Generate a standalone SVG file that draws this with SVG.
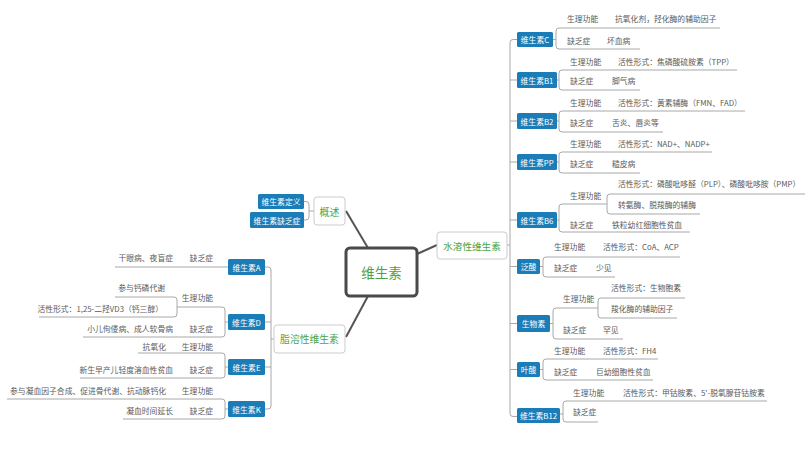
<svg xmlns="http://www.w3.org/2000/svg" width="812" height="473" viewBox="0 0 812 473">
<style>
.t{font-family:"Noto Sans CJK SC","Noto Sans",sans-serif;font-size:7.8px;fill:#5a5a5a;dominant-baseline:central}
.e{text-anchor:end}
.bx{fill:#1a7db8}
.bt{font-family:"Noto Sans CJK SC","Noto Sans",sans-serif;font-size:7.8px;fill:#ffffff;text-anchor:middle;dominant-baseline:central}
.ln{fill:none;stroke:#a8a8a8;stroke-width:1}
.cl{fill:none;stroke:#555555;stroke-width:2}
.mb{fill:#ffffff;stroke:#cccccc;stroke-width:1}
.mt{font-family:"Noto Sans CJK SC","Noto Sans",sans-serif;fill:#4aa34a;text-anchor:middle;dominant-baseline:central}
</style>
<rect width="812" height="473" fill="#ffffff"/>
<g id="connectors">
<path class="cl" d="M368 248 L346 211"/>
<path class="cl" d="M417 254 L437 245"/>
<path class="cl" d="M368 296 L346 337"/>
<path class="ln" d="M304 201.5 H306 Q309 201.5 309 204.5 V217 Q309 220 306 220 H304 M309 211 H314"/>
<path class="ln" d="M517 39.5 H513 Q510 39.5 510 42.5 V413.5 Q510 416.5 513 416.5 H517 M510 80 H517 M510 121 H517 M510 162 H517 M510 220 H517 M510 266.5 H517 M510 323.5 H517 M510 369.5 H517 M507 245 H510"/>
<path class="ln" d="M265 267 H268 Q271 267 271 270 V406 Q271 409 268 409 H265 M265 322 H271 M265 367 H271 M271 339 H274"/>
<path class="ln" d="M720 28 H559 Q556 28 556 31 V46 Q556 49 559 49 H640 M553 39.5 H556"/>
<path class="ln" d="M737 70 H562 Q559 70 559 73 V87 Q559 90 562 90 H640 M557 80 H559"/>
<path class="ln" d="M745 111 H562 Q559 111 559 114 V129 Q559 132 562 132 H663 M557 121 H559"/>
<path class="ln" d="M712 152 H562 Q559 152 559 155 V170 Q559 173 562 173 H640 M557 162 H559"/>
<path class="ln" d="M607 204 H562 Q559 204 559 207 V229 Q559 232 562 232 H690 M557 220 H559"/>
<path class="ln" d="M805 194 H610 Q607 194 607 197 V211 Q607 214 610 214 H700"/>
<path class="ln" d="M680 257 H546 Q543 257 543 260 V274 Q543 277 546 277 H615 M540 266.5 H543"/>
<path class="ln" d="M598 308 H556 Q553 308 553 311 V336 Q553 339 556 339 H623 M550 323.5 H553"/>
<path class="ln" d="M685 298 H601 Q598 298 598 301 V315 Q598 318 601 318 H677"/>
<path class="ln" d="M658 359 H546 Q543 359 543 362 V377 Q543 380 546 380 H653 M540 369.5 H543"/>
<path class="ln" d="M767 401 H566 Q563 401 563 404 V419 Q563 422 566 422 H598 M560 414 H563"/>
<path class="ln" d="M115 267 H228"/>
<path class="ln" d="M177 307 H222 Q225 307 225 310 V334 Q225 337 222 337 H83 M228 322 H225"/>
<path class="ln" d="M115 297 H174 Q177 297 177 300 V314 Q177 317 174 317 H39"/>
<path class="ln" d="M138 353 H222 Q225 353 225 356 V375 Q225 378 222 378 H80 M228 367 H225"/>
<path class="ln" d="M7 399 H222 Q225 399 225 402 V416 Q225 419 222 419 H123 M228 409 H225"/>
</g>
<g id="root">
<rect x="346" y="248" width="71" height="48" rx="4" fill="#ffffff" stroke="#4a4a4a" stroke-width="3"/>
<text class="mt" x="381.5" y="272" font-size="13.5">维生素</text>
</g>
<g id="overview">
<rect class="mb" x="314" y="197" width="31" height="28" rx="3"/>
<text class="mt" x="329.5" y="211" font-size="10">概述</text>
</g>
<g id="ov-def"><rect class="bx" x="258" y="194" width="46" height="15" rx="1.5"/><text class="bt" x="281" y="201.5">维生素定义</text></g>
<g id="ov-def2"><rect class="bx" x="250" y="212" width="54" height="16" rx="1.5"/><text class="bt" x="277" y="220">维生素缺乏症</text></g>
<g id="water">
<rect class="mb" x="437" y="232" width="70" height="27" rx="3"/>
<text class="mt" x="472" y="245.5" font-size="9.6">水溶性维生素</text>
</g>
<g id="fat">
<rect class="mb" x="274" y="325" width="71" height="28" rx="3"/>
<text class="mt" x="309.5" y="339" font-size="9.8">脂溶性维生素</text>
</g>
<g id="vc"><rect class="bx" x="517" y="32" width="36" height="15" rx="1.5"/><text class="bt" x="535" y="39.5">维生素C</text>
<text class="t" x="567" y="18">生理功能</text><text class="t" x="615" y="18">抗氧化剂，羟化酶的辅助因子</text>
<text class="t" x="567" y="40">缺乏症</text><text class="t" x="607" y="40">坏血病</text></g>
<g id="vb1"><rect class="bx" x="517" y="72" width="40" height="16" rx="1.5"/><text class="bt" x="537" y="80">维生素B1</text>
<text class="t" x="570" y="61">生理功能</text><text class="t" x="618" y="61">活性形式：焦磷酸硫胺素（TPP）</text>
<text class="t" x="570" y="80">缺乏症</text><text class="t" x="612" y="80">脚气病</text></g>
<g id="vb2"><rect class="bx" x="517" y="113" width="40" height="16" rx="1.5"/><text class="bt" x="537" y="121">维生素B2</text>
<text class="t" x="570" y="102">生理功能</text><text class="t" x="618" y="102">活性形式：黄素辅酶（FMN、FAD）</text>
<text class="t" x="570" y="122">缺乏症</text><text class="t" x="612" y="122">舌炎、唇炎等</text></g>
<g id="vpp"><rect class="bx" x="517" y="154" width="40" height="16" rx="1.5"/><text class="bt" x="537" y="162">维生素PP</text>
<text class="t" x="570" y="143">生理功能</text><text class="t" x="618" y="143">活性形式：NAD+、NADP+</text>
<text class="t" x="570" y="163">缺乏症</text><text class="t" x="612" y="163">糙皮病</text></g>
<g id="vb6"><rect class="bx" x="517" y="212" width="40" height="16" rx="1.5"/><text class="bt" x="537" y="220">维生素B6</text>
<text class="t" x="570" y="195">生理功能</text><text class="t" x="618" y="183">活性形式：磷酸吡哆醛（PLP）、磷酸吡哆胺（PMP）</text>
<text class="t" x="618" y="204">转氨酶、脱羧酶的辅酶</text>
<text class="t" x="570" y="224">缺乏症</text><text class="t" x="612" y="224">铁粒幼红细胞性贫血</text></g>
<g id="pant"><rect class="bx" x="517" y="259" width="23" height="15" rx="1.5"/><text class="bt" x="528.5" y="266.5">泛酸</text>
<text class="t" x="554" y="246">生理功能</text><text class="t" x="603" y="246">活性形式：CoA、ACP</text>
<text class="t" x="554" y="267">缺乏症</text><text class="t" x="596" y="267">少见</text></g>
<g id="biot"><rect class="bx" x="517" y="315" width="33" height="17" rx="1.5"/><text class="bt" x="533.5" y="323.5">生物素</text>
<text class="t" x="563" y="298">生理功能</text><text class="t" x="611" y="287">活性形式：生物胞素</text>
<text class="t" x="611" y="308">羧化酶的辅助因子</text>
<text class="t" x="563" y="329">缺乏症</text><text class="t" x="603" y="329">罕见</text></g>
<g id="folic"><rect class="bx" x="517" y="362" width="23" height="15" rx="1.5"/><text class="bt" x="528.5" y="369.5">叶酸</text>
<text class="t" x="554" y="350">生理功能</text><text class="t" x="603" y="350">活性形式：FH4</text>
<text class="t" x="554" y="371">缺乏症</text><text class="t" x="596" y="371">巨幼细胞性贫血</text></g>
<g id="vb12"><rect class="bx" x="517" y="408" width="43" height="15" rx="1.5"/><text class="bt" x="538.5" y="415.5">维生素B12</text>
<text class="t" x="573" y="392">生理功能</text><text class="t" x="623" y="392">活性形式：甲钴胺素、5'-脱氧腺苷钴胺素</text>
<text class="t" x="573" y="411">缺乏症</text></g>
<g id="va"><rect class="bx" x="228" y="259" width="37" height="16" rx="1.5"/><text class="bt" x="246.5" y="267">维生素A</text>
<text class="t e" x="213" y="257">缺乏症</text><text class="t e" x="173" y="257">干眼病、夜盲症</text></g>
<g id="vd"><rect class="bx" x="228" y="314" width="37" height="16" rx="1.5"/><text class="bt" x="246.5" y="322">维生素D</text>
<text class="t e" x="213" y="297">生理功能</text><text class="t e" x="165" y="287">参与钙磷代谢</text>
<text class="t e" x="163" y="308">活性形式：1,25-二羟VD3（钙三醇）</text>
<text class="t e" x="213" y="328">缺乏症</text><text class="t e" x="173" y="328">小儿佝偻病、成人软骨病</text></g>
<g id="ve"><rect class="bx" x="228" y="359" width="37" height="16" rx="1.5"/><text class="bt" x="246.5" y="367">维生素E</text>
<text class="t e" x="213" y="346">生理功能</text><text class="t e" x="166" y="346">抗氧化</text>
<text class="t e" x="213" y="369">缺乏症</text><text class="t e" x="173" y="369">新生早产儿轻度溶血性贫血</text></g>
<g id="vk"><rect class="bx" x="228" y="401" width="37" height="16" rx="1.5"/><text class="bt" x="246.5" y="409">维生素K</text>
<text class="t e" x="213" y="390">生理功能</text><text class="t e" x="166" y="390">参与凝血因子合成、促进骨代谢、抗动脉钙化</text>
<text class="t e" x="213" y="410">缺乏症</text><text class="t e" x="173" y="410">凝血时间延长</text></g>
</svg>
